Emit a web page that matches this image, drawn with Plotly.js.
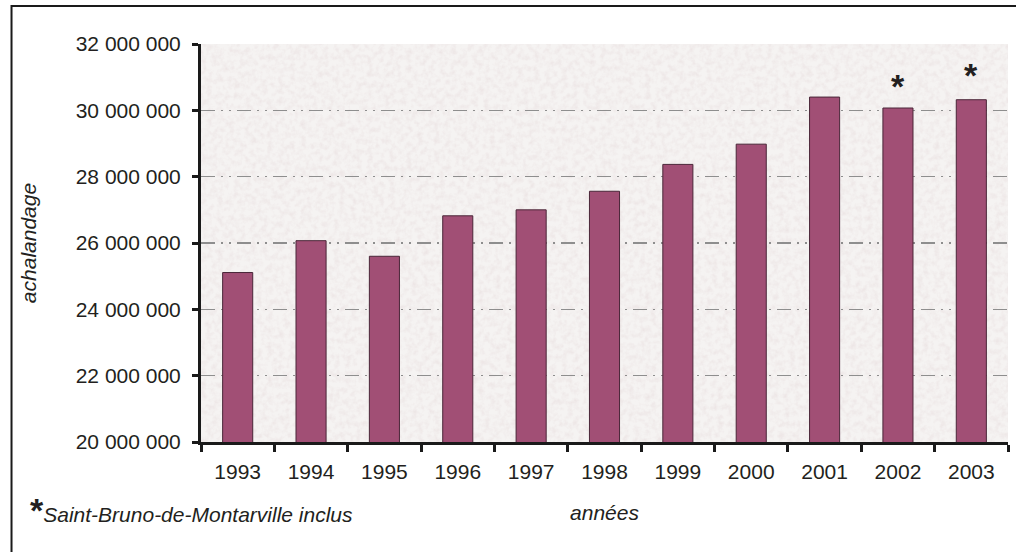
<!DOCTYPE html>
<html>
<head>
<meta charset="utf-8">
<script src="https://cdn.plot.ly/plotly-3.0.1.min.js"></script>
<style>html,body{margin:0;padding:0;background:#fff;}#chart{width:1016px;height:552px;}</style>
</head>
<body>
<div id="chart"></div>
<script>
// Data
const years = ["1993","1994","1995","1996","1997","1998","1999","2000","2001","2002","2003"];
const ridership = [25110000, 26070000, 25600000, 26820000, 27000000, 27560000, 28370000, 28980000, 30400000, 30070000, 30320000];
const starredYears = ["2002","2003"];
const yTickVals = [20000000, 22000000, 24000000, 26000000, 28000000, 30000000, 32000000];
const footnote = "Saint-Bruno-de-Montarville inclus";
const xTitle = "années";
const yTitle = "achalandage";

const FONT = '"Liberation Sans", Arial, Helvetica, sans-serif';
const TXT = '#231f20';

const svgTex = "<svg xmlns='http://www.w3.org/2000/svg' width='807' height='398'>" +
  "<filter id='n' x='0' y='0' width='100%' height='100%'>" +
  "<feTurbulence type='fractalNoise' baseFrequency='0.18' numOctaves='3' seed='7'/>" +
  "<feColorMatrix type='matrix' values='0 0 0 0 0.84  0 0 0 0 0.78  0 0 0 0 0.78  0 0 0 1.8 -0.70'/>" +
  "</filter>" +
  "<rect width='100%' height='100%' fill='#f5f3f2'/>" +
  "<rect width='100%' height='100%' filter='url(#n)'/>" +
  "</svg>";
const texURI = "data:image/svg+xml;charset=utf-8," + encodeURIComponent(svgTex);

const trace = {
  type: 'bar',
  x: years,
  y: ridership,
  width: 0.41,
  marker: {color: '#a14f75', line: {color: '#4a2638', width: 1}},
  hoverinfo: 'x+y'
};

const starShift = {"2002": 22, "2003": 25};
const annotations = starredYears.map(function (yr) {
  const i = years.indexOf(yr);
  return {
    x: i, y: ridership[i], xref: 'x', yref: 'y',
    text: '<b>*</b>', showarrow: false,
    yanchor: 'middle', yshift: starShift[yr],
    font: {family: FONT, size: 34, color: TXT}
  };
});
annotations.push({
  xref: 'paper', yref: 'paper', x: -0.214, y: -0.172,
  xanchor: 'left', yanchor: 'middle', showarrow: false,
  text: '<b><span style="font-size:34px">*</span></b><i>' + footnote + '</i>',
  font: {family: FONT, size: 21, color: TXT}
});

const layout = {
  width: 1016, height: 552,
  margin: {l: 201, r: 8, t: 44, b: 110},
  paper_bgcolor: '#ffffff',
  plot_bgcolor: '#f5f3f2',
  separators: ', ',
  showlegend: false,
  font: {family: FONT, size: 21, color: TXT},
  xaxis: {
    type: 'category',
    categoryorder: 'array', categoryarray: years,
    range: [-0.5, years.length - 0.5], autorange: false,
    tickson: 'boundaries',
    ticks: 'outside', ticklen: 7, tickwidth: 3, tickcolor: '#1a1a1a',
    showline: true, linewidth: 3, linecolor: '#1a1a1a',
    showgrid: false,
    tickangle: 0,
    ticklabelstandoff: 9,
    tickfont: {family: FONT, size: 21, color: TXT},
    title: {text: '<i>' + xTitle + '</i>', standoff: 24, font: {family: FONT, size: 21, color: TXT}},
    automargin: false
  },
  yaxis: {
    range: [20000000, 32000000], autorange: false,
    tickvals: yTickVals,
    tickformat: ',d',
    ticks: 'outside', ticklen: 6, tickwidth: 3, tickcolor: '#1a1a1a',
    showline: true, linewidth: 3, linecolor: '#1a1a1a',
    showgrid: true, gridcolor: '#8e8e8e', gridwidth: 1.5,
    griddash: '14px,6px,2px,6px,2px,6px',
    zeroline: false,
    ticklabelstandoff: 7,
    tickfont: {family: FONT, size: 21, color: TXT},
    title: {text: '<i>' + yTitle + '</i>', standoff: 34, font: {family: FONT, size: 21, color: TXT}},
    automargin: false
  },
  images: [{
    source: texURI, xref: 'paper', yref: 'paper',
    x: 0, y: 1, sizex: 1, sizey: 1, sizing: 'stretch',
    xanchor: 'left', yanchor: 'top', layer: 'below'
  }],
  shapes: [{
    type: 'rect', xref: 'paper', yref: 'paper',
    x0: -0.2348, x1: 1.2, y0: -1, y1: 1.0955,
    line: {color: '#1a1a1a', width: 2}, fillcolor: 'rgba(0,0,0,0)', layer: 'below'
  }],
  annotations: annotations
};

Plotly.newPlot('chart', [trace], layout, {displayModeBar: false, staticPlot: true});
</script>
</body>
</html>
